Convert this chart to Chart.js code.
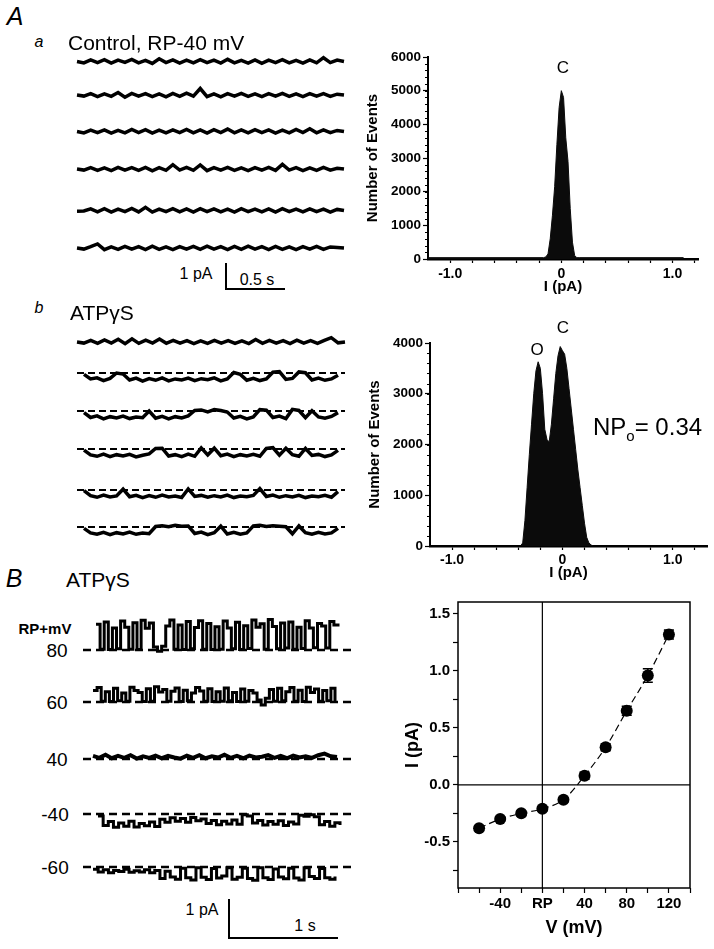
<!DOCTYPE html>
<html><head><meta charset="utf-8">
<script src="https://cdn.jsdelivr.net/npm/chart.js@4.4.1/dist/chart.umd.min.js"></script>
<style>
html,body{margin:0;padding:0;background:#fff;}
#page{position:relative;width:714px;height:949px;overflow:hidden;background:#fff;font-family:"Liberation Sans",Arial,sans-serif;color:#000;}
canvas{position:absolute;}
.t{position:absolute;white-space:nowrap;line-height:1;transform:translate(-50%,-50%);}
.tl{position:absolute;white-space:nowrap;line-height:1;transform:translate(0,-50%);}
.bar{position:absolute;background:#000;}
</style></head><body>
<div id="page">
  <canvas id="cAa" width="300" height="220" style="left:60px;top:45px"></canvas>
  <canvas id="cAb" width="300" height="220" style="left:60px;top:325px"></canvas>
  <canvas id="cB" width="290" height="300" style="left:75px;top:600px"></canvas>
  <canvas id="cH1" width="350" height="260" style="left:360px;top:40px"></canvas>
  <canvas id="cH2" width="354" height="260" style="left:360px;top:325px"></canvas>
  <canvas id="cIV" width="319" height="359" style="left:395px;top:590px"></canvas>

  <div class="t" style="left:15px;top:16px;font-size:25px;font-style:italic">A</div>
  <div class="t" style="left:39px;top:42px;font-size:16px;font-style:italic">a</div>
  <div class="tl" style="left:68px;top:42px;font-size:21px">Control, RP-40 mV</div>
  <div class="t" style="left:196px;top:274px;font-size:16px">1 pA</div>
  <div class="t" style="left:257px;top:280px;font-size:16px">0.5 s</div>
  <div class="bar" style="left:225px;top:263px;width:2px;height:27px"></div>
  <div class="bar" style="left:225px;top:288px;width:60px;height:2px"></div>

  <div class="t" style="left:39px;top:308px;font-size:16px;font-style:italic">b</div>
  <div class="tl" style="left:70px;top:312px;font-size:21px">ATPγS</div>

  <div class="t" style="left:14px;top:578px;font-size:25px;font-style:italic">B</div>
  <div class="tl" style="left:66px;top:579px;font-size:21px">ATPγS</div>
  <div class="t" style="left:45px;top:628px;font-size:15px;font-weight:bold">RP+mV</div>
  <div id="bLabels"></div>
  <div class="t" style="left:202px;top:910px;font-size:16px">1 pA</div>
  <div class="t" style="left:305px;top:926px;font-size:16px">1 s</div>
  <div class="bar" style="left:228px;top:899px;width:2px;height:40px"></div>
  <div class="bar" style="left:228px;top:937px;width:110px;height:2px"></div>

  <div class="t" style="left:563px;top:67px;font-size:17px">C</div>
  <div class="t" style="left:537px;top:349px;font-size:17px">O</div>
  <div class="t" style="left:563px;top:327px;font-size:17px">C</div>
  <div class="tl" style="left:593px;top:427px;font-size:24px">NP<span style="font-size:15px;position:relative;top:6px">o</span>= 0.34</div>
</div>
<script>
// ---------------- DATA ----------------
// Panel A a: control single-channel traces (pA, relative to closed level)
const controlTrace1 = [0.00,-0.05,0.06,-0.04,0.07,-0.06,0.05,-0.03,0.08,-0.05,0.04,-0.07,0.10,-0.04,0.06,-0.06,0.05,-0.05,0.07,-0.04,0.05,-0.06,0.08,-0.05,0.04,-0.06,0.06,-0.07,0.05,-0.04,0.07,-0.05,0.04,-0.06,0.06,-0.05,0.14,-0.04,0.05,0.00];
const controlTrace2 = [0.00,-0.04,0.05,-0.06,0.04,-0.05,0.09,-0.08,0.06,-0.04,0.05,-0.06,0.04,-0.07,0.06,-0.05,0.07,-0.04,0.24,-0.06,0.04,-0.07,0.05,-0.04,0.06,-0.05,0.04,-0.06,0.05,-0.04,0.06,-0.05,0.04,-0.06,0.05,-0.04,0.05,-0.05,0.03,0.00];
const controlTrace3 = [0.00,-0.05,0.05,-0.04,0.06,-0.06,0.04,-0.05,0.08,-0.04,0.07,-0.06,0.05,-0.05,0.06,-0.04,0.08,-0.05,0.06,-0.06,0.07,-0.04,0.09,-0.05,0.06,-0.05,0.07,-0.04,0.06,-0.06,0.05,-0.05,0.08,-0.04,0.10,-0.05,0.06,-0.04,0.04,0.00];
const controlTrace4 = [0.00,-0.04,0.05,-0.05,0.04,-0.06,0.06,-0.04,0.05,-0.05,0.06,-0.07,0.05,-0.05,0.16,-0.04,0.06,-0.05,0.15,-0.06,0.05,-0.04,0.06,-0.05,0.04,-0.06,0.05,-0.04,0.06,-0.05,0.17,-0.04,0.05,-0.06,0.04,-0.05,0.06,-0.04,0.03,0.00];
const controlTrace5 = [-0.03,-0.02,0.06,-0.05,0.07,-0.06,0.05,-0.04,0.08,-0.05,0.12,-0.06,0.05,-0.04,0.07,-0.05,0.06,-0.06,0.07,-0.04,0.06,-0.05,0.05,-0.06,0.07,-0.04,0.05,-0.05,0.06,-0.06,0.07,-0.04,0.05,-0.05,0.06,-0.04,0.05,-0.06,0.04,0.00];
const controlTrace6 = [0.00,-0.04,0.05,0.15,-0.06,0.04,-0.05,0.06,-0.04,0.05,-0.06,0.07,-0.05,0.04,-0.06,0.05,-0.04,0.06,-0.05,0.07,-0.04,0.05,-0.06,0.06,-0.05,0.07,-0.04,0.05,-0.06,0.06,-0.05,0.04,-0.06,0.05,-0.04,0.06,-0.05,0.04,0.02,0.00];

// Panel A b: ATPγS traces (pA, relative to closed level; openings downward)
const atpTrace1 = [0.00,-0.04,0.06,-0.05,0.08,-0.04,0.10,-0.06,0.12,-0.05,0.07,-0.04,0.11,-0.05,0.06,-0.04,0.05,-0.06,0.04,-0.05,0.06,-0.04,0.05,-0.05,0.04,-0.06,0.09,-0.05,0.06,-0.04,0.05,-0.06,0.07,-0.04,0.05,-0.05,0.06,0.16,-0.03,0.00];
const atpTrace2 = [-0.05,-0.22,-0.18,-0.28,-0.20,0.00,-0.04,-0.26,-0.19,-0.30,-0.21,-0.27,-0.18,-0.29,-0.22,-0.26,-0.19,-0.28,-0.21,-0.25,-0.18,-0.29,-0.22,0.02,-0.05,-0.27,-0.20,-0.28,-0.22,0.03,0.05,-0.24,-0.20,0.04,0.01,-0.26,-0.19,-0.27,-0.22,-0.08];
const atpTrace3 = [-0.06,-0.24,-0.18,-0.29,-0.21,-0.26,-0.19,-0.28,-0.22,-0.25,0.00,-0.27,-0.20,-0.29,-0.21,-0.26,-0.18,0.02,0.04,-0.03,0.05,0.02,-0.04,-0.26,-0.20,-0.29,-0.22,0.05,0.03,-0.24,-0.19,-0.28,0.06,0.02,-0.25,0.01,-0.22,-0.27,-0.20,-0.06];
const atpTrace4 = [-0.04,-0.22,-0.27,-0.19,-0.28,-0.21,-0.26,-0.20,-0.29,-0.23,-0.18,0.02,0.03,-0.26,-0.21,-0.28,-0.19,-0.27,0.04,-0.22,0.03,-0.25,-0.19,-0.28,-0.21,-0.26,-0.20,-0.27,0.02,0.05,-0.23,0.03,-0.21,-0.27,0.02,-0.24,-0.20,-0.28,-0.22,-0.05];
const atpTrace5 = [-0.02,-0.21,-0.27,-0.19,-0.26,-0.22,0.03,-0.25,-0.20,-0.28,-0.21,-0.27,-0.19,-0.26,-0.22,-0.28,0.04,-0.24,-0.20,-0.27,-0.21,-0.26,-0.19,-0.28,-0.22,-0.25,-0.20,0.05,-0.24,-0.19,-0.27,-0.21,-0.26,-0.20,-0.28,-0.22,-0.25,-0.20,-0.27,-0.06];
const atpTrace6 = [-0.05,-0.22,-0.27,-0.20,-0.28,-0.21,-0.26,-0.19,-0.27,-0.22,-0.25,0.02,0.05,0.01,0.06,0.03,0.04,-0.24,-0.19,-0.28,-0.21,0.03,-0.26,-0.20,-0.27,-0.22,0.04,0.06,0.02,0.05,0.03,0.01,-0.25,0.04,-0.21,-0.27,-0.20,-0.26,-0.22,-0.05];

// Panel B: ATPγS traces at RP + mV (pA, relative to closed level)
const bVoltageLabels = ['80','60','40','-40','-60'];
const bTrace80 = [0.68,0.02,0.74,0.01,0.58,0.03,0.76,0.60,0.02,0.72,0.01,0.78,0.57,0.71,0.08,-0.03,0.10,0.63,0.79,0.02,0.66,0.01,0.75,0.03,0.59,0.77,0.02,0.70,0.01,0.61,0.02,0.76,0.58,0.03,0.73,0.01,0.64,0.04,0.79,0.60,0.69,0.02,0.80,0.62,0.03,0.71,0.05,0.74,0.02,0.60,0.04,0.77,0.58,0.06,0.70,0.63,0.05,0.75,0.66,0.62];
const bTrace60 = [0.30,0.38,0.02,0.27,0.01,0.36,0.03,0.24,0.02,0.39,0.30,0.25,0.01,0.35,0.02,0.40,0.26,0.33,0.02,0.28,0.37,0.01,0.31,0.03,0.24,0.38,0.29,0.02,0.35,0.01,0.27,0.02,0.37,0.03,0.25,0.01,0.34,0.02,0.30,0.24,0.05,-0.08,0.10,0.33,0.02,0.36,0.03,0.27,0.38,0.02,0.31,0.01,0.39,0.25,0.34,0.02,0.30,0.03,0.36,0.01];
const bTrace40 = [0.08,0.03,0.11,0.02,0.08,0.03,0.10,0.01,0.07,0.03,0.09,0.02,0.08,0.04,0.01,0.09,0.03,0.10,0.02,0.07,0.04,0.11,0.03,0.08,0.02,0.09,0.04,0.06,0.10,0.03,0.08,0.02,0.09,0.04,0.07,0.03,0.10,0.14,0.07,0.05];
const bTraceM40 = [-0.05,-0.30,-0.20,-0.35,-0.24,-0.32,-0.19,-0.34,-0.25,-0.31,-0.21,-0.33,-0.14,-0.22,-0.10,-0.19,-0.12,-0.22,-0.09,-0.18,-0.13,-0.25,-0.17,-0.28,-0.19,-0.26,-0.16,-0.27,-0.02,-0.05,-0.24,-0.17,-0.29,-0.20,-0.27,-0.18,-0.30,-0.21,-0.26,-0.03,-0.06,-0.02,-0.07,-0.28,-0.20,-0.32,-0.23,-0.29];
const bTraceM60 = [-0.06,-0.13,-0.07,-0.15,-0.09,-0.12,-0.06,-0.14,-0.10,-0.13,-0.07,-0.15,-0.09,-0.30,-0.11,-0.26,-0.32,-0.03,-0.28,-0.34,-0.02,-0.27,-0.33,-0.04,-0.29,-0.24,-0.02,-0.32,-0.27,-0.03,-0.30,-0.35,-0.02,-0.28,-0.33,-0.05,-0.26,-0.31,-0.03,-0.29,-0.34,-0.02,-0.25,-0.30,-0.04,-0.28,-0.32,-0.25];

// Histogram A a (control): amplitude bins (pA) and counts
const histControlCurrent = [-1.20,-0.16,-0.14,-0.12,-0.10,-0.08,-0.06,-0.04,-0.02,0.00,0.02,0.04,0.06,0.08,0.10,0.12,0.14,0.16,1.10];
const histControlCount   = [40,40,60,150,600,1300,2150,3400,4500,5000,4800,3600,2900,1500,500,100,40,40,40];
// Histogram A b (ATPγS)
const histAtpCurrent = [-0.38,-0.36,-0.34,-0.32,-0.30,-0.28,-0.26,-0.24,-0.22,-0.20,-0.18,-0.16,-0.14,-0.12,-0.10,-0.08,-0.06,-0.04,-0.02,0.00,0.02,0.04,0.06,0.08,0.10,0.12,0.14,0.16,0.18,0.20,0.22,0.24,0.26,0.28];
const histAtpCount   = [0,60,500,1150,1800,2400,3000,3450,3630,3500,3000,2300,2100,2050,2400,2900,3400,3750,3930,3850,3780,3500,3100,2700,2300,1900,1500,1150,800,450,170,60,20,0];

// I-V relation (panel B)
const ivVoltage = [-60,-40,-20,0,20,40,60,80,100,120];
const ivCurrent = [-0.38,-0.30,-0.25,-0.21,-0.13,0.08,0.33,0.65,0.96,1.32];
const ivError   = [0.02,0.02,0.02,0.02,0.02,0.03,0.03,0.04,0.06,0.04];
const ivTickLabels = {'-40':'-40','0':'RP','40':'40','80':'80','120':'120'};
const histTickLabels = {'-1':'-1.0','0':'0','1':'1.0'};

// ---------------- LAYOUT ----------------
const FONT = '"Liberation Sans", Arial, sans-serif';
Chart.defaults.font.family = FONT;
Chart.defaults.color = '#000';

function traceChart(id, L, T, W, H, pxPerPA, rows) {
  const datasets = [];
  rows.forEach(r => {
    if (r.dash) datasets.push({data:[{x:r.dash[0]-L,y:r.base-T},{x:r.dash[1]-L,y:r.base-T}],
      borderColor:'#000', borderWidth:r.dashW||2, borderDash:r.dashPat||[7,4], pointRadius:0, showLine:true});
    const n = r.values.length;
    datasets.push({data:r.values.map((v,i)=>({x:r.x0-L+i*(r.x1-r.x0)/(n-1), y:r.base-T-v*pxPerPA})),
      borderColor:'#000', borderWidth:r.w||2, pointRadius:0, showLine:true, stepped:r.stepped||false,
      borderJoinStyle:'miter'});
  });
  new Chart(document.getElementById(id), {type:'scatter', data:{datasets},
    options:{responsive:false, animation:false, events:[], layout:{padding:0},
      plugins:{legend:{display:false}, tooltip:{enabled:false}},
      scales:{x:{type:'linear',display:false,min:0,max:W}, y:{type:'linear',display:false,min:0,max:H,reverse:true}}}});
}

traceChart('cAa', 60, 45, 300, 220, 27, [
  {values:controlTrace1, x0:77, x1:344, base:61.5, w:3.5},
  {values:controlTrace2, x0:77, x1:344, base:95, w:3.5},
  {values:controlTrace3, x0:77, x1:344, base:131.5, w:3.5},
  {values:controlTrace4, x0:77, x1:344, base:169, w:3.5},
  {values:controlTrace5, x0:77, x1:344, base:210.5, w:3.5},
  {values:controlTrace6, x0:77, x1:344, base:248, w:3.5}
]);
traceChart('cAb', 60, 325, 300, 220, 27, [
  {values:atpTrace1, x0:77, x1:345, base:342, w:3.5},
  {values:atpTrace2, x0:84, x1:338, base:373, dash:[77,345], w:3.5},
  {values:atpTrace3, x0:84, x1:338, base:411, dash:[77,345], w:3.5},
  {values:atpTrace4, x0:84, x1:338, base:449, dash:[77,345], w:3.5},
  {values:atpTrace5, x0:84, x1:338, base:490, dash:[77,345], w:3.5},
  {values:atpTrace6, x0:84, x1:338, base:527, dash:[77,345], w:3.5}
]);
const bRows = [
  {values:bTrace80, x0:96, x1:338, base:650, dash:[83,352], stepped:true, w:3},
  {values:bTrace60, x0:93, x1:335, base:702, dash:[83,352], stepped:true, w:3},
  {values:bTrace40, x0:93, x1:337, base:759, dash:[83,352], w:4},
  {values:bTraceM40, x0:98, x1:340, base:814, dash:[83,352], stepped:true, w:3},
  {values:bTraceM60, x0:93, x1:335, base:867, dash:[83,352], stepped:true, w:3}
];
bRows.forEach(r => { r.dashPat = [8,5]; r.dashW = 2.5; });
traceChart('cB', 75, 600, 290, 300, 38, bRows);
// voltage labels for panel B rows
const bl = document.getElementById('bLabels');
bVoltageLabels.forEach((lab, i) => {
  const d = document.createElement('div');
  d.className = 't'; d.textContent = lab;
  d.style.cssText = 'left:' + (lab.startsWith('-') ? 55 : 57) + 'px;top:' + bRows[i].base + 'px;font-size:19px';
  bl.appendChild(d);
});

const minorTicks = {
  id:'minorTicks',
  afterDraw(chart, args, opts) {
    if (!opts || !opts.step) return;
    const {ctx, chartArea} = chart; const y = chart.scales.y;
    ctx.save(); ctx.strokeStyle = '#000'; ctx.lineWidth = 1;
    for (let v = y.min; v <= y.max + 1e-9; v += opts.step) {
      const py = Math.round(y.getPixelForValue(v)) + 0.5;
      ctx.beginPath(); ctx.moveTo(chartArea.left - opts.len, py); ctx.lineTo(chartArea.left, py); ctx.stroke();
    }
    ctx.restore();
  }
};

function histChart(id, xs, ys, cfg) {
  const lab = v => { for (const k in histTickLabels) if (Math.abs(v - Number(k)) < 1e-6) return histTickLabels[k]; return ''; };
  new Chart(document.getElementById(id), {
    type:'scatter',
    data:{datasets:[{data:xs.map((x,i)=>({x, y:ys[i]})), showLine:true, fill:'origin',
      backgroundColor:'#0b0b0b', borderColor:'#0b0b0b', borderWidth:1, pointRadius:0, tension:0}]},
    plugins:[minorTicks],
    options:{responsive:false, animation:false, events:[],
      layout:{padding:{top:cfg.padTop, right:cfg.padRight, left:0, bottom:0}},
      plugins:{legend:{display:false}, tooltip:{enabled:false}, minorTicks:{step:200, len:3}},
      scales:{
        x:{type:'linear', min:-1.2, max:cfg.xMax,
          afterFit:s=>{s.height = cfg.xH;},
          grid:{drawOnChartArea:false, tickLength:4, tickColor:'#000', tickWidth:1.2},
          border:{display:true, color:'#000', width:2.5},
          ticks:{stepSize:0.2, includeBounds:false, autoSkip:false, maxRotation:0, padding:cfg.xPad,
            font:{size:14, weight:'bold'}, color:'#000', callback:lab},
          title:{display:true, text:'I (pA)', font:{size:15, weight:'bold'}, padding:{top:0, bottom:cfg.xTitlePad}}},
        y:{type:'linear', min:0, max:cfg.yMax,
          afterFit:s=>{s.width = cfg.yW;},
          grid:{drawOnChartArea:false, tickLength:5, tickColor:'#000', tickWidth:1.2},
          border:{display:true, color:'#000', width:2},
          ticks:{stepSize:1000, padding:2, font:{size:13.5, weight:'bold'}, color:'#000', callback:v=>String(v)},
          title:{display:true, text:'Number of Events', font:{size:15, weight:'bold'}, padding:{top:cfg.yTitlePad, bottom:0}}}
      }}
  });
}
histChart('cH1', histControlCurrent, histControlCount, {padTop:17, padRight:12, xMax:1.23, xH:41, yW:68, yMax:6000, xPad:3, xTitlePad:4, yTitlePad:4});
histChart('cH2', histAtpCurrent, histAtpCount, {padTop:18, padRight:7, xMax:1.31, xH:39, yW:70, yMax:4000, xPad:2, xTitlePad:3, yTitlePad:6});

const ivDecor = {
  id:'ivDecor',
  beforeDatasetsDraw(chart) {
    const {ctx, chartArea:a, scales:{x, y}} = chart;
    ctx.save(); ctx.strokeStyle = '#000'; ctx.lineWidth = 1.2;
    const px = x.getPixelForValue(0), py = y.getPixelForValue(0);
    ctx.beginPath(); ctx.moveTo(px, a.top); ctx.lineTo(px, a.bottom); ctx.stroke();
    ctx.beginPath(); ctx.moveTo(a.left, py); ctx.lineTo(a.right, py); ctx.stroke();
    ctx.lineWidth = 1.5; ctx.strokeRect(a.left, a.top, a.right - a.left, a.bottom - a.top);
    ctx.restore();
  },
  afterDatasetsDraw(chart) {
    const {ctx, scales:{x, y}} = chart;
    ctx.save(); ctx.strokeStyle = '#000'; ctx.lineWidth = 1.5;
    ivVoltage.forEach((v, i) => {
      const px = x.getPixelForValue(v);
      const top = y.getPixelForValue(ivCurrent[i] + ivError[i]);
      const bot = y.getPixelForValue(ivCurrent[i] - ivError[i]);
      ctx.beginPath(); ctx.moveTo(px, top); ctx.lineTo(px, bot);
      ctx.moveTo(px - 5, top); ctx.lineTo(px + 5, top);
      ctx.moveTo(px - 5, bot); ctx.lineTo(px + 5, bot); ctx.stroke();
    });
    ctx.restore();
  }
};
const ivPts = ivVoltage.map((v, i) => ({x:v, y:ivCurrent[i]}));
new Chart(document.getElementById('cIV'), {
  type:'scatter',
  data:{datasets:[
    {data:ivPts, showLine:true, borderColor:'#000', borderWidth:1.2, borderDash:[7,4], pointRadius:0, tension:0.4, cubicInterpolationMode:'monotone'},
    {data:ivPts, showLine:false, pointRadius:6, pointBackgroundColor:'#000', pointBorderColor:'#000', pointBorderWidth:0}
  ]},
  plugins:[ivDecor],
  options:{responsive:false, animation:false, events:[],
    layout:{padding:{top:9, right:24, left:0, bottom:0}},
    plugins:{legend:{display:false}, tooltip:{enabled:false}},
    scales:{
      x:{type:'linear', min:-80, max:140, afterFit:s=>{s.height = 61;},
        grid:{drawOnChartArea:false, tickLength:5, tickColor:'#000', tickWidth:1.2},
        border:{display:false},
        ticks:{stepSize:20, autoSkip:false, maxRotation:0, padding:2, font:{size:15, weight:'bold'}, color:'#000',
          callback:v=>ivTickLabels[String(Math.round(v))] || ''},
        title:{display:true, text:'V (mV)', font:{size:18, weight:'bold'}, padding:{top:0, bottom:10}}},
      y:{type:'linear', min:-0.905, max:1.605, afterFit:s=>{s.width = 63;},
        grid:{drawOnChartArea:false, tickLength:5, tickColor:'#000', tickWidth:1.2},
        border:{display:false},
        ticks:{stepSize:0.25, includeBounds:false, padding:3, font:{size:15, weight:'bold'}, color:'#000',
          callback:v=>{const r = Math.round(v * 100) / 100; return Math.abs(r * 2 - Math.round(r * 2)) < 1e-6 ? r.toFixed(1) : '';}},
        title:{display:true, text:'I (pA)', font:{size:18, weight:'bold'}, padding:{top:7, bottom:0}}}
    }}
});
</script>
</body></html>
